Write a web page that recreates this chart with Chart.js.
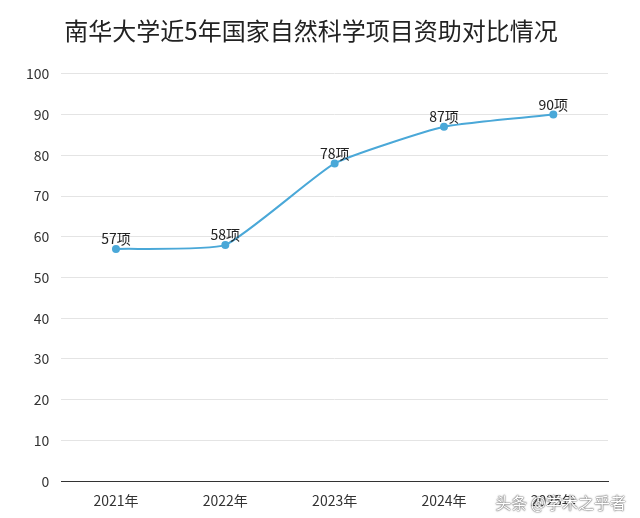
<!DOCTYPE html>
<html><head><meta charset="utf-8">
<script src="https://cdn.jsdelivr.net/npm/chart.js@4/dist/chart.umd.min.js"></script>
<style>
html,body{margin:0;background:#fff;}
#wrap{position:relative;width:640px;height:518px;}
#wm{position:absolute;right:14px;bottom:4px;font:16px "Noto Sans CJK SC";color:#fff;text-shadow:0 0 2px #555,0 0 1px #333;}
</style>
</head><body>
<div id="wrap"><canvas id="c" width="640" height="518"></canvas><div id="wm">头条 @学术之乎者</div></div>
<script>
const years = ['2021年', '2022年', '2023年', '2024年', '2025年'];
const counts = [57, 58, 78, 87, 90];
const LINE = '#4aa8d8';

// value labels above each point
const pointLabels = {
  id: 'pointLabels',
  afterDatasetsDraw(chart) {
    const ctx = chart.ctx;
    const meta = chart.getDatasetMeta(0);
    ctx.save();
    ctx.fillStyle = '#222';
    ctx.font = '14px "Noto Sans CJK SC"';
    ctx.textAlign = 'center';
    ctx.textBaseline = 'bottom';
    meta.data.forEach((pt, i) => ctx.fillText(counts[i] + '项', pt.x, pt.y - 3));
    ctx.restore();
  }
};

new Chart(document.getElementById('c'), {
  type: 'line',
  data: {
    labels: years,
    datasets: [{
      data: counts,
      borderColor: LINE,
      backgroundColor: LINE,
      borderWidth: 2,
      pointRadius: 3,
      tension: 0.15,
    }],
  },
  options: {
    responsive: false,
    animation: false,
    layout: { padding: { left: 14, right: 32, top: 0, bottom: 6 } },
    plugins: {
      legend: { display: false },
      tooltip: { enabled: false },
      title: {
        display: true,
        text: '南华大学近5年国家自然科学项目资助对比情况',
        color: '#222',
        font: { family: 'Noto Sans CJK SC', size: 24, weight: 'normal' },
        padding: { top: 16, bottom: 29 },
      },
    },
    scales: {
      x: {
        offset: true,
        grid: { display: false },
        border: { color: '#333' },
        ticks: { color: '#333', font: { family: 'Noto Sans CJK SC', size: 14 } },
      },
      y: {
        min: 0, max: 100,
        ticks: { stepSize: 10, color: '#333', font: { family: 'Noto Sans CJK SC', size: 14 }, padding: 12 },
        grid: { color: '#e4e4e4', drawTicks: false },
        border: { display: false },
      },
    },
  },
  plugins: [pointLabels],
});
</script>
</body></html>
